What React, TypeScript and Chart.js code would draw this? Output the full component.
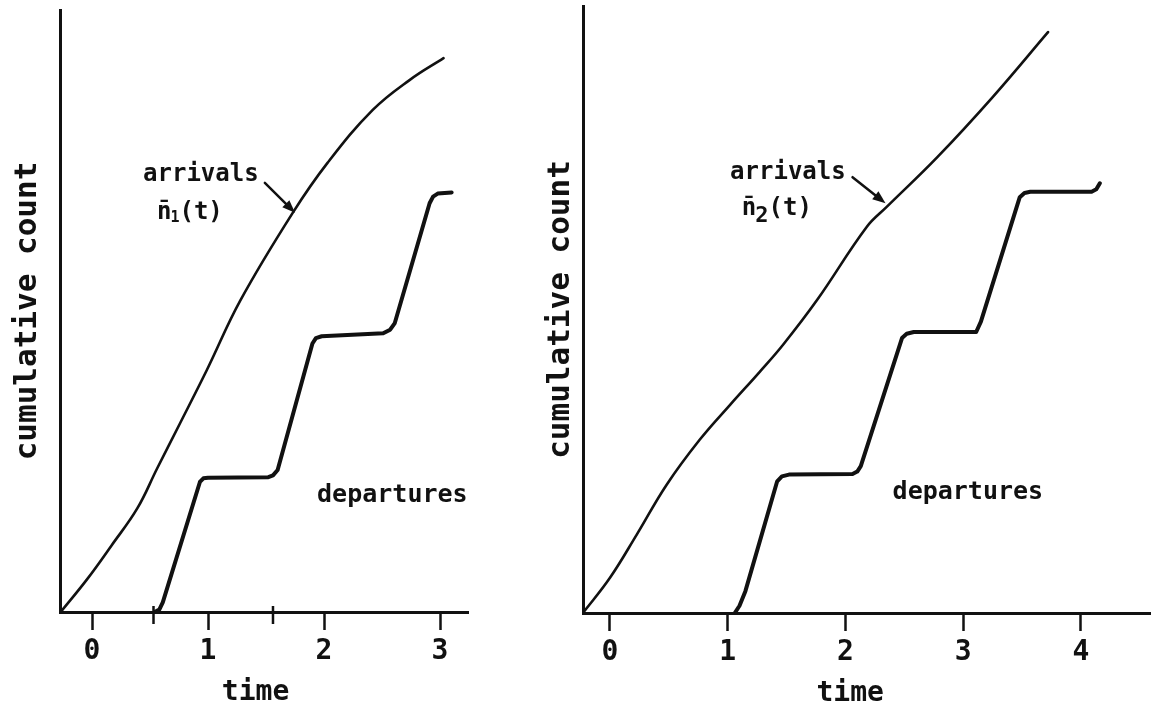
import React, { useEffect, useRef } from "react";
import { Chart, registerables } from "chart.js";

Chart.register(...registerables);

const FONT = "'DejaVu Sans Mono', 'DejaVu Sans', monospace";
const INK = "#111111";

// ---------- shared text ----------
const yAxisTitle = "cumulative count";
const xAxisTitle = "time";
const arrivalsText = "arrivals";
const departuresText = "departures";

// ---------- left panel data ----------
const leftTicks = [0, 1, 2, 3];
const leftRange = [-0.276, 3.241];
const leftArrivalsT = [-0.27, -0.04, 0.17, 0.39, 0.56, 0.76, 0.99, 1.28, 1.73, 2.03, 2.42, 2.74, 3.03];
const leftArrivalsN = [0, 5.5, 11.1, 17.2, 23.8, 31.4, 40.2, 51.8, 66.3, 74.6, 83.4, 88.4, 92.0];
const leftDeparturesT = [0.54, 0.58, 0.61, 0.93, 0.96, 1.0, 1.52, 1.56, 1.6, 1.9, 1.93, 1.98, 2.51, 2.57, 2.61, 2.91, 2.94, 2.98, 3.1];
const leftDeparturesN = [0, 0.4, 1.6, 21.6, 22.2, 22.3, 22.4, 22.7, 23.6, 44.6, 45.5, 45.8, 46.3, 46.9, 48.0, 67.9, 69.0, 69.5, 69.7];
const leftExtraMarks = [0.53, 1.56];
const leftArrivalsPos = [0.44, 72.6];
const leftFuncPos = [0.56, 66.4];
const leftArrow = [1.49, 71.3, 1.75, 66.3];
const leftDeparturesPos = [1.94, 19.4];
const leftTimeT = 1.41;

// ---------- right panel data ----------
const rightTicks = [0, 1, 2, 3, 4];
const rightRange = [-0.229, 4.586];
const rightArrivalsT = [-0.23, 0, 0.23, 0.48, 0.76, 1.02, 1.27, 1.47, 1.76, 2.18, 2.35, 2.78, 3.25, 3.72];
const rightArrivalsN = [0, 5.8, 13.0, 21.1, 28.5, 34.3, 39.7, 44.2, 51.6, 63.6, 66.9, 75.1, 85.0, 95.7];
const rightDeparturesT = [1.06, 1.1, 1.15, 1.42, 1.46, 1.52, 2.06, 2.1, 2.13, 2.48, 2.52, 2.58, 3.11, 3.15, 3.48, 3.52, 3.57, 4.09, 4.13, 4.16];
const rightDeparturesN = [0, 1.2, 3.6, 21.7, 22.5, 22.8, 22.9, 23.3, 24.2, 45.3, 46.0, 46.3, 46.3, 48.0, 68.5, 69.2, 69.4, 69.4, 69.8, 70.8];
const rightExtraMarks: number[] = [];
const rightArrivalsPos = [1.02, 72.5];
const rightFuncPos = [1.12, 66.6];
const rightArrow = [2.06, 71.8, 2.34, 67.5];
const rightDeparturesPos = [2.4, 19.9];
const rightTimeT = 2.04;

const Y_MAX = 100;

type PanelCfg = {
  width: number;
  height: number;
  padTop: number;
  padRight: number;
  yWidth: number;
  xHeight: number;
  titlePad: number;
  range: number[];
  ticks: number[];
  arrT: number[];
  arrN: number[];
  depT: number[];
  depN: number[];
  extraMarks: number[];
  arrivalsPos: number[];
  funcPos: number[];
  funcSub: string;
  subSize: number;
  subDrop: number;
  arrow: number[];
  departuresPos: number[];
  timeT: number;
};

const zip = (a: number[], b: number[]) => a.map((x, i) => ({ x, y: b[i] }));

function makeAnnotations(cfg: PanelCfg) {
  return {
    id: "annotations",
    afterDraw(chart: any) {
      const ctx: CanvasRenderingContext2D = chart.ctx;
      const xs = chart.scales.x;
      const ys = chart.scales.y;
      const px = (v: number) => xs.getPixelForValue(v);
      const py = (v: number) => ys.getPixelForValue(v);
      const area = chart.chartArea;
      ctx.save();
      ctx.fillStyle = INK;
      ctx.strokeStyle = INK;
      ctx.textBaseline = "middle";
      ctx.textAlign = "left";

      // arrivals label
      ctx.font = `bold 24px ${FONT}`;
      ctx.fillText(arrivalsText, px(cfg.arrivalsPos[0]), py(cfg.arrivalsPos[1]));

      // n-bar(t) label
      let x = px(cfg.funcPos[0]);
      const y = py(cfg.funcPos[1]);
      ctx.font = `bold 24px ${FONT}`;
      ctx.fillText("n\u0304", x, y);
      x += ctx.measureText("n").width;
      ctx.font = `bold ${cfg.subSize}px ${FONT}`;
      ctx.fillText(cfg.funcSub, x - 1, y + cfg.subDrop);
      x += ctx.measureText(cfg.funcSub).width - 1;
      ctx.font = `bold 24px ${FONT}`;
      ctx.fillText("(t)", x, y);

      // arrow
      const x1 = px(cfg.arrow[0]);
      const y1 = py(cfg.arrow[1]);
      const x2 = px(cfg.arrow[2]);
      const y2 = py(cfg.arrow[3]);
      const ang = Math.atan2(y2 - y1, x2 - x1);
      const head = 13;
      ctx.lineWidth = 2.5;
      ctx.lineCap = "round";
      ctx.beginPath();
      ctx.moveTo(x1, y1);
      ctx.lineTo(x2 - Math.cos(ang) * head * 0.6, y2 - Math.sin(ang) * head * 0.6);
      ctx.stroke();
      ctx.beginPath();
      ctx.moveTo(x2, y2);
      ctx.lineTo(x2 - head * Math.cos(ang) + 5 * Math.sin(ang), y2 - head * Math.sin(ang) - 5 * Math.cos(ang));
      ctx.lineTo(x2 - head * Math.cos(ang) - 5 * Math.sin(ang), y2 - head * Math.sin(ang) + 5 * Math.cos(ang));
      ctx.closePath();
      ctx.fill();

      // departures label
      ctx.font = `bold 25px ${FONT}`;
      ctx.fillText(departuresText, px(cfg.departuresPos[0]), py(cfg.departuresPos[1]));

      // x axis title
      ctx.font = `bold 28px ${FONT}`;
      ctx.textAlign = "center";
      ctx.fillText(xAxisTitle, px(cfg.timeT), area.bottom + 81);

      // extra marks crossing the time axis
      ctx.lineWidth = 2.5;
      ctx.lineCap = "butt";
      for (const m of cfg.extraMarks) {
        const mx = px(m);
        ctx.beginPath();
        ctx.moveTo(mx, area.bottom - 6);
        ctx.lineTo(mx, area.bottom + 12);
        ctx.stroke();
      }
      ctx.restore();
    },
  };
}

function Panel({ cfg, left }: { cfg: PanelCfg; left: number }) {
  const ref = useRef<HTMLCanvasElement>(null);
  useEffect(() => {
    if (!ref.current) return;
    const lineBase = {
      borderColor: INK,
      pointRadius: 0,
      fill: false,
      borderCapStyle: "round" as const,
      borderJoinStyle: "round" as const,
    };
    const chart = new Chart(ref.current, {
      type: "line",
      data: {
        datasets: [
          { ...lineBase, label: "arrivals", data: zip(cfg.arrT, cfg.arrN), borderWidth: 2.6, tension: 0.4 },
          { ...lineBase, label: "departures", data: zip(cfg.depT, cfg.depN), borderWidth: 4, tension: 0 },
        ],
      },
      options: {
        animation: false,
        responsive: false,
        maintainAspectRatio: false,
        events: [],
        layout: { padding: { left: 0, top: cfg.padTop, right: cfg.padRight, bottom: 0 } },
        plugins: {
          legend: { display: false },
          tooltip: { enabled: false },
          title: { display: false },
        },
        scales: {
          x: {
            type: "linear",
            min: cfg.range[0],
            max: cfg.range[1],
            afterBuildTicks: (s: any) => {
              s.ticks = cfg.ticks.map((v) => ({ value: v }));
            },
            afterFit: (s: any) => {
              s.height = cfg.xHeight;
            },
            grid: {
              display: true,
              drawOnChartArea: false,
              drawTicks: true,
              tickLength: 18,
              tickWidth: 2.5,
              tickColor: INK,
              lineWidth: 1,
              color: INK,
            },
            border: { display: true, color: INK, width: 3 },
            ticks: {
              color: INK,
              font: { family: FONT, size: 28, weight: "bold" },
              padding: 5,
              maxRotation: 0,
              autoSkip: false,
              callback: (v: any) => String(v),
            },
            title: { display: false },
          },
          y: {
            type: "linear",
            min: 0,
            max: Y_MAX,
            afterFit: (s: any) => {
              s.width = cfg.yWidth;
            },
            grid: { display: false },
            border: { display: true, color: INK, width: 3 },
            ticks: { display: false },
            title: {
              display: true,
              text: yAxisTitle,
              color: INK,
              font: { family: FONT, size: 31, weight: "bold" },
              padding: { top: cfg.titlePad, bottom: 0 },
            },
          },
        },
      },
      plugins: [makeAnnotations(cfg)],
    });
    return () => chart.destroy();
  }, [cfg]);
  return (
    <canvas
      ref={ref}
      width={cfg.width}
      height={cfg.height}
      style={{ position: "absolute", left, top: 0, width: cfg.width, height: cfg.height }}
    />
  );
}

const leftCfg: PanelCfg = {
  width: 520,
  height: 710,
  padTop: 10,
  padRight: 52,
  yWidth: 60,
  xHeight: 98,
  titlePad: 9,
  range: leftRange,
  ticks: leftTicks,
  arrT: leftArrivalsT,
  arrN: leftArrivalsN,
  depT: leftDeparturesT,
  depN: leftDeparturesN,
  extraMarks: leftExtraMarks,
  arrivalsPos: leftArrivalsPos,
  funcPos: leftFuncPos,
  funcSub: "1",
  subSize: 15,
  subDrop: 6,
  arrow: leftArrow,
  departuresPos: leftDeparturesPos,
  timeT: leftTimeT,
};

const rightCfg: PanelCfg = {
  width: 635,
  height: 710,
  padTop: 6,
  padRight: 5,
  yWidth: 63,
  xHeight: 97,
  titlePad: 22,
  range: rightRange,
  ticks: rightTicks,
  arrT: rightArrivalsT,
  arrN: rightArrivalsN,
  depT: rightDeparturesT,
  depN: rightDeparturesN,
  extraMarks: rightExtraMarks,
  arrivalsPos: rightArrivalsPos,
  funcPos: rightFuncPos,
  funcSub: "2",
  subSize: 22,
  subDrop: 8,
  arrow: rightArrow,
  departuresPos: rightDeparturesPos,
  timeT: rightTimeT,
};

export default function App() {
  return (
    <div
      style={{
        position: "fixed",
        left: 0,
        top: 0,
        width: 1155,
        height: 710,
        background: "#ffffff",
        overflow: "hidden",
      }}
    >
      <Panel cfg={leftCfg} left={0} />
      <Panel cfg={rightCfg} left={520} />
    </div>
  );
}
